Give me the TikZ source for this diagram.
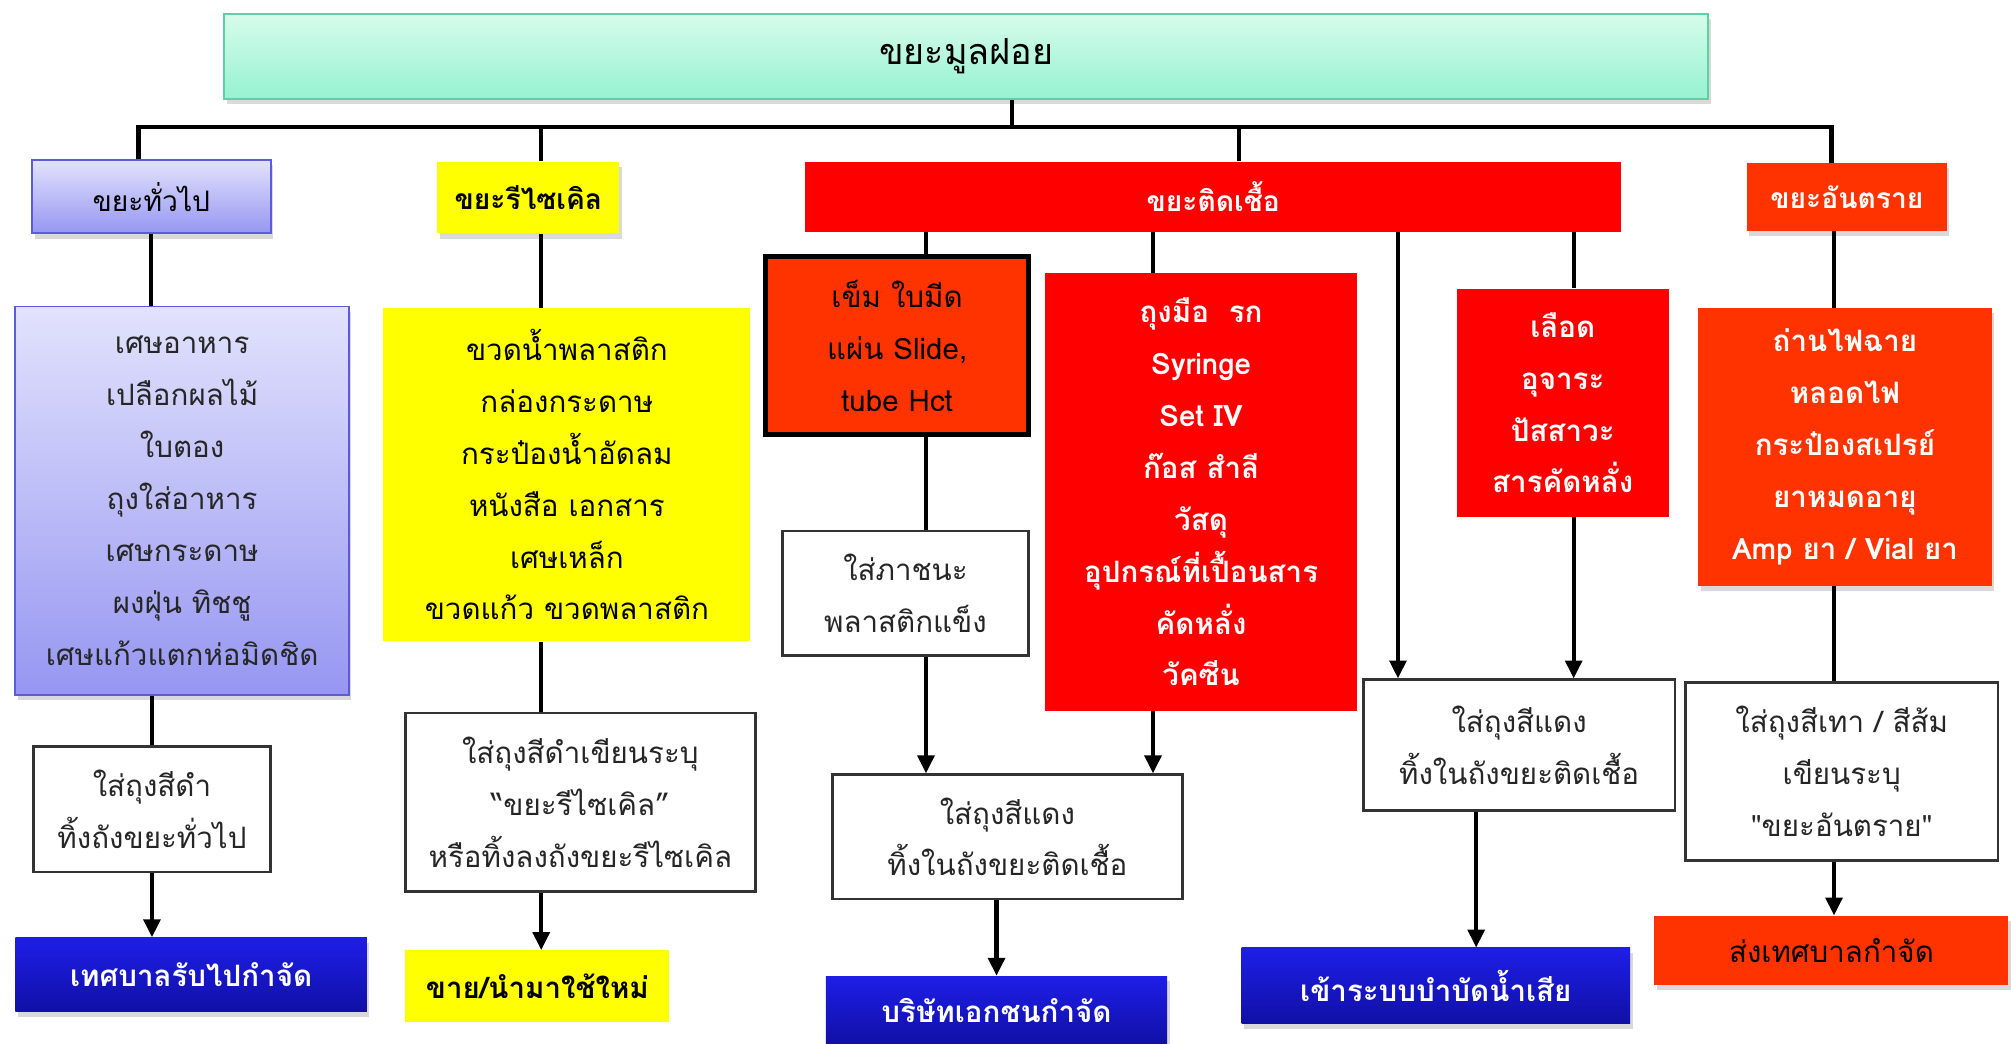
\documentclass[tikz,border=0pt]{standalone}
\usepackage{fontspec}
\newfontfamily\thaifont[Script=Thai]{Loma}
\usetikzlibrary{arrows.meta,shadows}

\definecolor{mintT}{HTML}{D6FCEB}
\definecolor{mintB}{HTML}{96F2D2}
\definecolor{mintE}{HTML}{5ED1A4}
\definecolor{lavT}{HTML}{E2E2FD}
\definecolor{lavB}{HTML}{9696F2}
\definecolor{lavE}{HTML}{5B5BDB}
\definecolor{navyT}{HTML}{1E1EE8}
\definecolor{navyB}{HTML}{1010A6}
\definecolor{hazred}{HTML}{FF3300}
\definecolor{infred}{HTML}{FF0000}
\definecolor{recyel}{HTML}{FFFF00}

\tikzset{
  box/.style={rectangle, inner sep=0pt, align=center,
    font=\thaifont\fontsize{23}{40.5}\selectfont},
  bf/.style={font=\thaifont\bfseries\fontsize{23}{40.5}\selectfont},
  head/.style={font=\thaifont\bfseries\fontsize{22}{40.5}\selectfont},
  sz/.style 2 args={minimum width=#1, minimum height=#2},
  shad/.style={drop shadow={shadow xshift=2pt, shadow yshift=-4pt, opacity=0.3}},
  mintbox/.style={box, shad, top color=mintT, bottom color=mintB, draw=mintE, line width=1.5pt},
  lavbox/.style={box, shad, top color=lavT, bottom color=lavB, draw=lavE, line width=1.5pt},
  navybox/.style={box, bf, shad, top color=navyT, bottom color=navyB, text=white},
  yelbox/.style={box, fill=recyel},
  redbox/.style={box, bf, fill=infred, text=white},
  hazbox/.style={box, bf, shad, fill=hazred, text=white},
  bagbox/.style={box, fill=white, draw=black!80, line width=2pt, text=black!85},
  wire/.style={line width=3.2pt, black},
  arr/.style={wire, -{Triangle[length=14pt, width=13pt]}}
}

\begin{document}
\begin{tikzpicture}[x=1pt, y=-1pt]
\useasboundingbox (0,0) rectangle (1568,814);

% top and headers
\node[mintbox, sz={1157pt}{66pt}, font=\thaifont\fontsize{28}{34}\selectfont] (top) at (753.5,44) {ขยะมูลฝอย};
\node[lavbox, sz={186pt}{57pt}, font=\thaifont\fontsize{22}{30}\selectfont] (gen) at (118,153.5) {ขยะทั่วไป};
\node[yelbox, head, shad, sz={142pt}{56pt}] (rec) at (412,154) {ขยะรีไซเคิล};
\node[redbox, head, sz={636pt}{55pt}] (inf) at (946,153.5) {ขยะติดเชื้อ};
\node[hazbox, head, sz={156pt}{53pt}] (haz) at (1440,153.5) {ขยะอันตราย};

% what goes in each
\node[lavbox, sz={260pt}{303pt}, text=black!85] (genlist) at (142,390.5)
  {เศษอาหาร\\เปลือกผลไม้\\ใบตอง\\ถุงใส่อาหาร\\เศษกระดาษ\\ผงฝุ่น ทิชชู\\เศษแก้วแตกห่อมิดชิด};
\node[yelbox, sz={286pt}{260pt}] (reclist) at (442,370)
  {ขวดน้ำพลาสติก\\กล่องกระดาษ\\กระป๋องน้ำอัดลม\\หนังสือ เอกสาร\\เศษเหล็ก\\ขวดแก้ว ขวดพลาสติก};
\node[box, fill=hazred, draw=black, line width=4pt, sz={205pt}{139pt}] (needle) at (699.5,269.5)
  {เข็ม ใบมีด\\แผ่น Slide,\\tube Hct};
\node[redbox, sz={243pt}{341pt}] (inflist) at (936.5,383.5)
  {ถุงมือ~~รก\\Syringe\\Set IV\\ก๊อส สำลี\\วัสดุ\\อุปกรณ์ที่เปื้อนสาร\\คัดหลั่ง\\วัคซีน};
\node[redbox, sz={165pt}{178pt}] (blood) at (1218.5,314)
  {เลือด\\อุจาระ\\ปัสสาวะ\\สารคัดหลั่ง};
\node[hazbox, sz={229pt}{217pt}] (hazlist) at (1438.5,348.5)
  {ถ่านไฟฉาย\\หลอดไฟ\\กระป๋องสเปรย์\\ยาหมดอายุ\\Amp ยา / Vial ยา};

% bags and bins
\node[bagbox, sz={185pt}{98pt}] (genbag) at (118.5,631) {ใส่ถุงสีดำ\\ทิ้งถังขยะทั่วไป};
\node[bagbox, sz={273pt}{139pt}] (recbag) at (452.5,625.5)
  {ใส่ถุงสีดำเขียนระบุ\\“ขยะรีไซเคิล”\\หรือทิ้งลงถังขยะรีไซเคิล};
\node[bagbox, sz={192pt}{97pt}] (needlebag) at (706,462.5) {ใส่ภาชนะ\\พลาสติกแข็ง};
\node[bagbox, sz={273pt}{97pt}] (infbag) at (785.5,652.5) {ใส่ถุงสีแดง\\ทิ้งในถังขยะติดเชื้อ};
\node[bagbox, sz={243pt}{102pt}] (bloodbag) at (1184.5,581) {ใส่ถุงสีแดง\\ทิ้งในถังขยะติดเชื้อ};
\node[bagbox, sz={244pt}{139pt}] (hazbag) at (1436,601.5)
  {ใส่ถุงสีเทา / สีส้ม\\เขียนระบุ\\"ขยะอันตราย"};

% disposal
\node[navybox, sz={274pt}{58pt}] (genfin) at (149,760) {เทศบาลรับไปกำจัด};
\node[yelbox, bf, sz={206pt}{56pt}] (recfin) at (419,769) {ขาย/นำมาใช้ใหม่};
\node[navybox, sz={266pt}{53pt}] (inffin) at (777,787.5) {บริษัทเอกชนกำจัด};
\node[navybox, sz={303pt}{59pt}] (bloodfin) at (1119.5,768.5) {เข้าระบบบำบัดน้ำเสีย};
\node[box, shad, fill=hazred, sz={276pt}{54pt}] (hazfin) at (1428,741) {ส่งเทศบาลกำจัด};

% bus
\coordinate (hub) at (789,99);
\draw[wire] (top.south -| hub) -- (hub);
\draw[wire] ([xshift=-10pt]gen.north) |- (hub) -| ([xshift=-12pt]haz.north);
\draw[wire] ([xshift=10pt]rec.north) |- (hub);
\draw[wire] ([xshift=20pt]inf.north) |- (hub);

% columns
\coordinate (rx) at (422,0);
\coordinate (nx) at (722,0);
\coordinate (ix) at (899,0);
\coordinate (bx) at (1090,0);
\coordinate (lx) at (1227,0);
\coordinate (cx) at (777,0);
\coordinate (wx) at (1151,0);
\coordinate (hx) at (1430,0);

\draw[wire] (gen.south) -- (gen.south |- genlist.north);
\draw[wire] (genbag.north |- genlist.south) -- (genbag.north);
\draw[arr] (genbag.south) -- (genbag.south |- genfin.north);

\draw[wire] (rx |- rec.south) -- (rx |- reclist.north);
\draw[wire] (rx |- reclist.south) -- (rx |- recbag.north);
\draw[arr] (rx |- recbag.south) -- (rx |- recfin.north);

\draw[wire] (nx |- inf.south) -- (nx |- needle.north);
\draw[wire] (nx |- needle.south) -- (nx |- needlebag.north);
\draw[arr] (nx |- needlebag.south) -- (nx |- infbag.north);
\draw[wire] (ix |- inf.south) -- (ix |- inflist.north);
\draw[arr] (ix |- inflist.south) -- (ix |- infbag.north);
\draw[arr] (cx |- infbag.south) -- (cx |- inffin.north);

\draw[arr] (bx |- inf.south) -- (bx |- bloodbag.north);
\draw[wire] (lx |- inf.south) -- (lx |- blood.north);
\draw[arr] (lx |- blood.south) -- (lx |- bloodbag.north);
\draw[arr] (wx |- bloodbag.south) -- (wx |- bloodfin.north);

\draw[wire] (hx |- haz.south) -- (hx |- hazlist.north);
\draw[wire] (hx |- hazlist.south) -- (hx |- hazbag.north);
\draw[arr] (hx |- hazbag.south) -- (hx |- hazfin.north);
\end{tikzpicture}
\end{document}
